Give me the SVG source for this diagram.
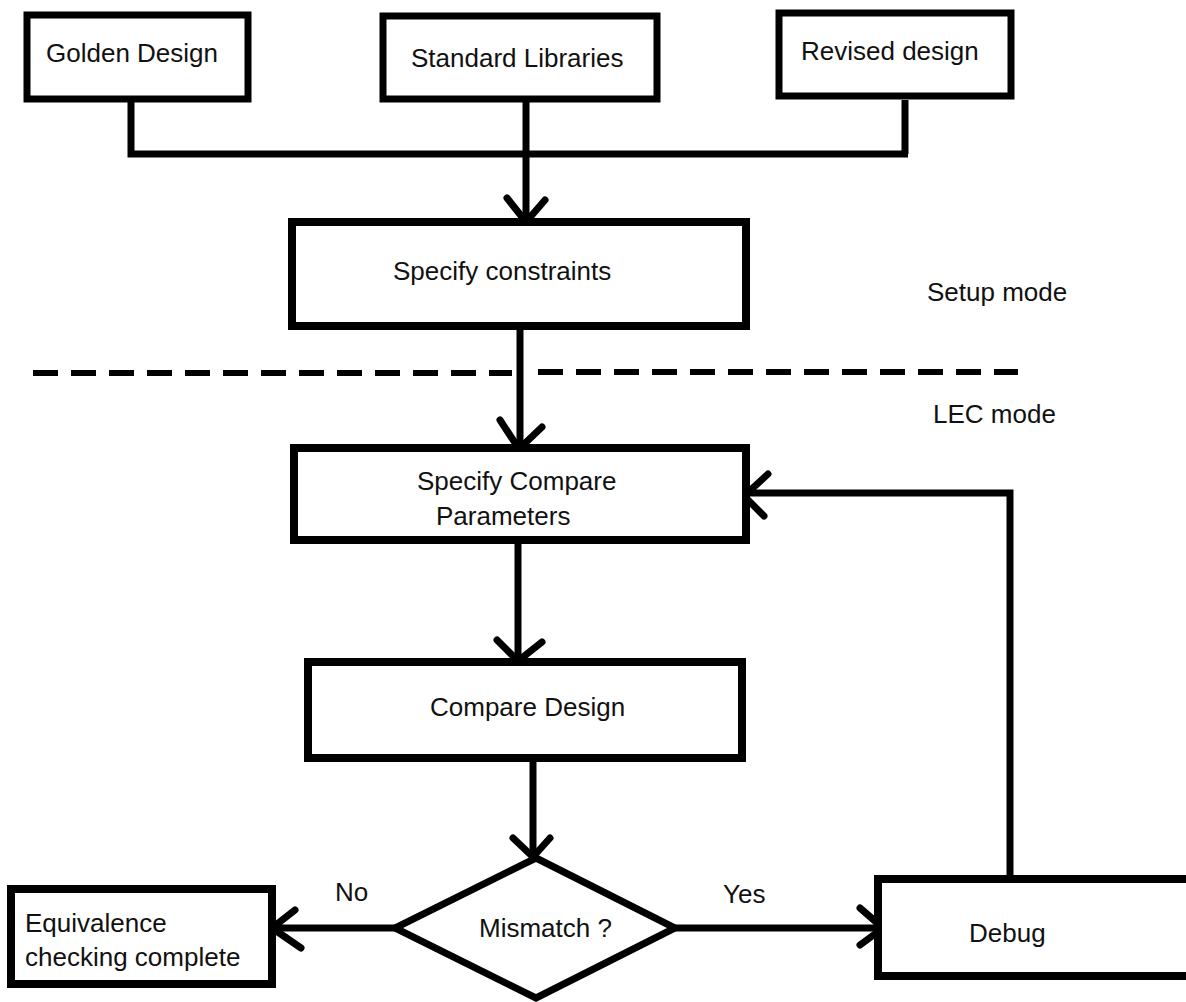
<svg xmlns="http://www.w3.org/2000/svg" width="1186" height="1002" viewBox="0 0 1186 1002">
<style>
.box{fill:#fff;stroke:#000;stroke-width:8}
.ln{fill:none;stroke:#000;stroke-width:7}
.ah{fill:none;stroke:#000;stroke-width:7;stroke-linecap:round;stroke-linejoin:round}
.dash{fill:none;stroke:#000;stroke-width:6;stroke-dasharray:25 13}
text{font-family:"Liberation Sans",Arial,sans-serif;font-size:26px;fill:#111}
</style>
<rect width="1186" height="1002" fill="#fff"/>
<g id="connectors">
<path class="ln" d="M131,100 V154 H908 M905,100 V154 M526,102 V222"/>
<path class="ah" d="M507,198 L526,222 L545,200"/>
<path class="ln" d="M520,330 V448"/>
<path class="ah" d="M500,420 L519,449 L542,427"/>
<path class="ln" d="M518,544 V660"/>
<path class="ah" d="M497,640 L518,661 L542,642"/>
<path class="ln" d="M533,762 V856"/>
<path class="ah" d="M513,838 L533,857 L550,838"/>
<path class="ln" d="M395,928 H272"/>
<path class="ah" d="M295,910 L272,928 L301,948"/>
<path class="ln" d="M675,928 H878"/>
<path class="ah" d="M860,908 L883,928 L860,945"/>
<path class="ln" d="M1010,879 V493 H746"/>
<path class="ah" d="M768,474 L744,496 L764,516"/>
</g>
<g id="divider">
<path class="dash" d="M33,373 H512"/>
<path class="dash" d="M538,372 H1018"/>
</g>
<g id="golden">
<rect class="box" x="27" y="15" width="221" height="84" style="stroke-width:7"/>
<text x="46" y="62">Golden Design</text>
</g>
<g id="standard">
<rect class="box" x="383" y="16" width="274" height="83" style="stroke-width:7"/>
<text x="411" y="67">Standard Libraries</text>
</g>
<g id="revised">
<rect class="box" x="779" y="13" width="232" height="83" style="stroke-width:7"/>
<text x="801" y="60">Revised design</text>
</g>
<g id="constraints">
<rect class="box" x="292" y="222" width="454" height="104"/>
<text x="393" y="280">Specify constraints</text>
</g>
<g id="setup-label"><text x="927" y="301">Setup mode</text></g>
<g id="lec-label"><text x="933" y="423">LEC mode</text></g>
<g id="compare-params">
<rect class="box" x="294" y="448" width="452" height="92"/>
<text x="417" y="490">Specify Compare</text>
<text x="436" y="525">Parameters</text>
</g>
<g id="compare-design">
<rect class="box" x="308" y="662" width="434" height="96"/>
<text x="430" y="716">Compare Design</text>
</g>
<g id="mismatch">
<polygon class="box" points="536,858 675,928 536,998 395,928" style="stroke-width:7"/>
<text x="479" y="937">Mismatch ?</text>
</g>
<g id="equivalence">
<rect class="box" x="11" y="889" width="261" height="95"/>
<text x="25" y="932">Equivalence</text>
<text x="25" y="966">checking complete</text>
</g>
<g id="debug">
<rect class="box" x="878" y="879" width="320" height="97"/>
<text x="969" y="942">Debug</text>
</g>
<g id="labels">
<text x="335" y="901">No</text>
<text x="723" y="903">Yes</text>
</g>
</svg>
